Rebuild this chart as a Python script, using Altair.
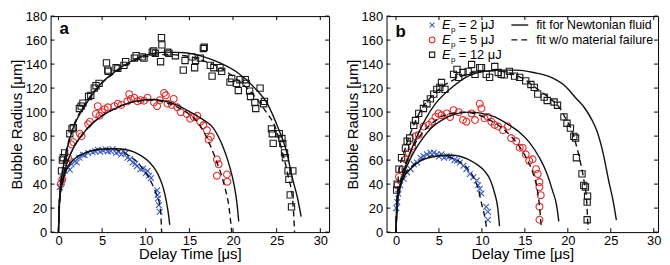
import altair as alt
import pandas as pd

FONT = "Liberation Sans, Arial, Helvetica, sans-serif"
X_TICKS = [0, 5, 10, 15, 20, 25, 30]
Y_TICKS = [0, 20, 40, 60, 80, 100, 120, 140, 160, 180]
X_TITLE = "Delay Time [μs]"
Y_TITLE = "Bubble Radius [μm]"
ENERGIES = ["= 2 μJ", "= 5 μJ", "= 12 μJ"]
FIT_LABELS = ["fit for Newtonian fluid", "fit w/o material failure"]
COLORS = ["#3a5cc6", "#e32b2b", "#1a1a1a"]
CROSS = "M-1,-1L1,1M1,-1L-1,1"
SHAPES = [CROSS, "circle", "square"]
SIZES = [34, 48, 40]

# ---------------- panel a : measured points ----------------
a_blue_t = [0.15, 0.34, 0.5, 0.7, 1.1, 1.3, 1.5, 1.9, 2.1, 2.4, 2.8, 3.0, 3.4, 3.9, 4.2, 4.5, 4.8, 5.1, 5.4,
            5.65, 6.0, 6.2, 6.6, 6.9, 7.2, 7.4, 7.7, 7.9, 8.2, 8.5, 8.8, 9.0, 9.4, 9.7, 10.0, 10.2, 10.4,
            10.6, 11.3, 11.35, 11.4, 11.5, 11.6]
a_blue_r = [37.5, 41.5, 45, 51, 54, 52, 56.5, 59, 58, 62, 64.5, 64, 66, 66.5, 67.5, 68.7, 67, 68, 69,
            67.3, 67.5, 69, 66, 67, 64.6, 67.5, 66, 62, 61, 58, 57, 55, 52.4, 53, 49, 51, 47,
            45, 34.8, 31, 28, 22.5, 17]

a_red_t = [0.27, 0.45, 0.9, 1.1, 1.5, 1.7, 2.45, 2.65, 3.4, 3.6, 4.3, 4.5, 4.7, 5.0, 5.3, 5.65, 6.4, 6.8,
           7.2, 7.9, 8.1, 8.3, 8.7, 9.05, 9.4, 9.8, 10.2, 10.95, 11.3, 11.6, 12.1, 12.3, 12.5, 13.0,
           13.2, 13.6, 14.0, 14.7, 15.1, 15.5, 15.9, 16.25, 16.6, 17.0, 17.2, 17.45, 18.15, 18.35,
           18.15, 19.3, 19.35]
a_red_r = [40, 44, 58, 62, 73, 75, 82, 80, 90, 92, 98.5, 105, 97, 100, 102.5, 104, 105, 107,
           106, 109, 115, 111, 112, 109, 110, 109.5, 112, 108, 105, 110, 116, 114, 107, 106,
           111, 104, 100, 98.5, 94.5, 96, 97, 92, 89, 85, 77, 79.5, 60.5, 56.5,
           47, 48, 42]

a_blk_t = [0.35, 0.45, 0.55, 0.7, 1.3, 1.55, 1.7, 2.4, 2.6, 2.8, 3.45, 3.7, 4.1, 4.3, 4.65, 5.5, 5.65,
           5.7, 6.6, 6.8, 7.5, 7.7, 8.7, 8.9, 9.6, 9.8, 10.75, 10.9, 11.1, 11.7, 11.8, 11.85, 12.5,
           12.65, 13.4, 14.3, 14.5, 15.3, 15.6, 15.7, 16.25, 16.6, 16.7, 17.4, 17.6, 17.8, 18.5,
           18.7, 19.65, 19.85, 20.4, 20.6, 20.8, 21.4, 21.5, 21.9, 22.0, 22.5, 22.6, 23.1, 23.5,
           23.6, 24.4, 24.5, 24.6, 25.3, 25.6, 25.7, 25.9, 26.0, 26.3, 26.4, 26.55, 26.7, 26.85]
a_blk_r = [51, 60, 62, 66, 82, 86, 87, 103, 105, 107.5, 113, 114, 120, 122, 124, 141, 135,
           134, 137, 136.5, 139, 142, 145, 147, 146, 145, 150, 151, 149, 142, 162, 156, 150,
           149, 147, 135, 143, 146, 137, 143, 145, 153, 154, 139, 130, 137, 137,
           134, 125, 128, 124, 118, 127, 127, 124, 117.5, 113, 108, 103, 120, 107,
           109, 86, 82, 74, 82, 78, 74, 66, 62, 51, 44, 31, 21, 51]

# ---------------- panel a : fits ----------------
a_blue_fit_t = [0.02, 0.1, 0.42, 0.8, 1.36, 2.0, 2.88, 3.8, 4.77, 5.7, 6.67, 7.6, 8.55, 9.5, 10.45,
                11.1, 11.6, 12.0, 12.35, 12.6, 12.75]
a_blue_fit_r = [4, 25, 40, 50, 57.5, 62, 65.5, 67.8, 69, 69.5, 69.5, 68.8, 67, 63.5, 58,
                52, 45, 37, 26, 15, 6]
a_blue_dash_t = [0, 0.1, 0.42, 0.8, 1.36, 2.0, 2.88, 3.8, 4.77, 5.7, 6.67, 7.5, 8.2, 9.0, 9.7,
                 10.3, 10.8, 11.25, 11.6, 11.75, 11.82]
a_blue_dash_r = [0, 25, 40, 50, 57.5, 62, 65.5, 67.8, 69, 69.3, 68.5, 66, 63, 58.5, 52.4,
                 46, 39, 31, 22.5, 12, 0]

a_red_fit_t = [0.02, 0.15, 0.5, 1, 1.7, 2.7, 3.8, 5, 6.5, 8, 9.5, 10.5, 12, 13.5, 15, 16.5, 17.7,
               18.9, 19.6, 20.1, 20.45, 20.65]
a_red_fit_r = [6, 30, 45, 58, 70, 81, 90, 97, 103, 107.5, 110, 110.5, 109.5, 106, 100.5, 94, 87,
               70, 55, 40, 24, 9]
a_red_dash_t = [0, 0.15, 0.5, 1, 1.7, 2.7, 3.8, 5, 6.5, 8, 9.5, 10.5, 12, 13.5, 15, 16, 16.9,
                18.0, 19.0, 19.55, 19.85]
a_red_dash_r = [0, 30, 45, 58, 70, 81, 90, 97, 103, 107.5, 109.5, 110, 108.5, 104.5, 98, 91, 80,
                61, 39, 20, 0]

a_blk_fit_t = [0.02, 0.2, 0.5, 1, 1.7, 2.9, 4.8, 6.7, 8.5, 10.5, 12.5, 14.5, 16.5, 18.5, 20.5, 22.5,
               24, 25.1, 26.1, 26.8, 27.4, 27.8]
a_blk_fit_r = [5, 35, 52, 70, 87, 104, 123, 135, 143, 148.5, 150, 149.5, 146.5, 141, 133, 120,
               106, 88, 68, 45, 28, 13]
a_blk_dash_t = [0, 0.2, 0.5, 1, 1.7, 2.9, 4.8, 6.7, 8.5, 10.5, 12.5, 14.5, 16.5, 18.5, 20.5, 22.5,
                23.8, 24.8, 25.5, 26.3, 26.85, 27.05]
a_blk_dash_r = [0, 36, 53, 71, 88, 105, 123, 134, 142, 147, 148, 147, 143, 137, 127, 113,
                100, 88, 71, 47, 25, 0]

# ---------------- panel b : measured points ----------------
b_blue_t = [0.04, 0.15, 0.27, 0.5, 0.9, 1.3, 1.7, 2.07, 2.46, 2.85, 3.2, 3.6, 4.0, 4.4, 4.75, 5.0,
            5.3, 5.6, 5.9, 6.2, 6.5, 6.8, 7.1, 7.45, 7.85, 8.2, 8.6, 9.0, 9.4, 9.55, 9.75, 9.95,
            10.5, 10.7, 10.7]
b_blue_r = [20, 25, 32, 39, 44.4, 49.8, 52.5, 56.6, 58, 62, 63.5, 64.8, 66.2, 66.2, 64.8, 63,
            64.8, 62, 63.5, 63, 62, 60, 59.4, 58, 55.3, 52.5, 48.5, 45.8, 43, 39, 36.2, 32.1,
            21.2, 17, 10.3]

b_red_t = [0.15, 0.35, 0.7, 1.1, 1.5, 1.9, 2.27, 2.65, 3.2, 3.8, 4.2, 4.6, 4.95, 5.3, 5.9, 6.3, 6.7,
           7.3, 7.8, 8.2, 8.8, 9.2, 9.75, 9.95, 10.3, 10.7, 11.1, 11.5, 11.9, 12.45, 13.0, 13.4,
           14.0, 14.4, 14.75, 15.1, 15.5, 15.9, 16.3, 16.5, 16.7, 16.7, 16.85, 16.7, 16.7]
b_red_r = [39, 46, 52.5, 60.7, 66, 71.6, 80, 81, 88, 89.3, 92, 96, 98.9, 97.5, 98.9, 96, 101.6,
           100, 93.4, 92, 98.9, 93.4, 107, 103, 94.8, 96, 92, 89.3, 88, 85, 88, 78.4,
           75.7, 70.3, 70.3, 64.8, 59.4, 60.7, 52.5, 48.5, 41.7, 37.6, 30.8, 21.2, 10.3]

b_blk_t = [0.08, 0.15, 0.35, 0.65, 1.1, 1.3, 1.6, 2.07, 2.27, 2.65, 3.2, 3.6, 4.0, 4.4, 4.75, 5.1,
           5.3, 5.7, 6.7, 7.1, 7.3, 7.8, 8.4, 8.8, 9.2, 9.75, 9.95, 10.5, 10.9, 11.5, 11.9, 12.25,
           12.6, 13.2, 13.8, 14.4, 15.1, 15.7, 16.1, 16.5, 17.25, 17.6, 18.4, 18.8, 19.55, 19.9,
           20.3, 20.7, 20.9, 21.0, 21.65, 21.85, 22.05, 22.25, 22.3, 22.25]
b_blk_r = [35, 40, 52.5, 62, 70, 75.7, 78.4, 89, 93, 99, 103, 107, 111, 115, 119, 120.6,
           124.7, 119, 131.5, 135.6, 129, 133, 134, 139.7, 131.5, 137, 137, 131.5, 129, 138, 133, 131.5,
           131, 134, 130, 129, 126, 123, 120.6, 115, 112.5, 109.7, 108.4, 105.7, 96, 90.7,
           86.6, 79.8, 78.4, 62, 48.5, 39, 37.6, 25, 30, 10.3]

# ---------------- panel b : fits ----------------
b_blue_fit_t = [0.0, 0.16, 0.74, 1.9, 3.0, 4.2, 5.5, 6.5, 7.5, 8.4, 9.5, 10.3, 11.0, 11.5, 11.85, 12.05]
b_blue_fit_r = [5, 29, 43, 54, 60, 62.5, 63.8, 64, 63, 60.7, 56, 51, 43, 32, 20, 5]
b_blue_dash_t = [0, 0.16, 0.74, 1.9, 3.0, 4.2, 5.2, 6.2, 7.2, 8.2, 9.2, 9.6, 9.95, 10.3, 10.55]
b_blue_dash_r = [0, 31, 45, 55, 60.5, 63.5, 64, 62.5, 59.5, 54, 43, 35.5, 24, 14, 3]

b_red_fit_t = [0.02, 0.15, 0.5, 1, 1.8, 2.8, 4, 5.5, 7, 8.5, 10, 11.5, 13, 14.4, 15.5, 16.7, 17.5,
               18.2, 18.7, 18.95]
b_red_fit_r = [5, 25, 38, 50, 63, 75, 86, 94, 98.5, 100, 99, 96, 90, 83, 75, 62, 50, 35, 22, 9]
b_red_dash_t = [0, 0.15, 0.5, 1, 2, 3, 4, 5, 6.5, 8, 9.5, 11, 12.5, 13.5, 14.5, 15.3, 15.9, 16.4,
                16.7, 16.9]
b_red_dash_r = [0, 30, 42, 55, 71, 82, 89.5, 95, 99, 100, 98, 93, 86, 79, 70, 60, 50, 37, 22, 5]

b_blk_fit_t = [0.02, 0.2, 0.6, 1.2, 2.46, 3.5, 4.6, 6.5, 8.4, 10.3, 12.5, 14.1, 16, 18.2, 19.8,
               20.9, 22, 22.8, 23.4, 24.1, 24.75, 25.3, 25.65]
b_blk_fit_r = [5, 25, 42, 57, 80, 95, 107, 120.5, 130, 134, 135, 135, 133, 128.5, 121,
               112, 103, 93.5, 84, 66, 43, 25, 10]
b_blk_dash_t = [0, 0.3, 1, 2, 3, 4, 5, 6.5, 8, 10, 11.5, 13, 15, 16.5, 18, 19, 19.8, 20.5, 21.0,
                21.5, 21.9, 22.2, 22.35]
b_blk_dash_r = [0, 48, 68, 88, 103, 112, 119, 126, 131, 134, 134.5, 133, 127, 119, 111, 104, 94,
                84, 72, 57, 42, 25, 2]

W_A, W_B, H = 281, 274, 218


def pts(t, r):
    return pd.DataFrame({"t": t, "r": r})


def fits(pairs):
    frames = []
    for i, (t, r) in enumerate(pairs):
        d = pts(t, r)
        d["curve"] = i
        frames.append(d)
    return pd.concat(frames, ignore_index=True)


def panel(label, label_y, series, solid, dashed, xdom, width, legend=False):
    xs = alt.Scale(domain=xdom, nice=False, zero=False)
    ys = alt.Scale(domain=[0, 180], nice=False, zero=False)
    xax = alt.Axis(values=X_TICKS, title=X_TITLE, ticks=False, domain=False, grid=False,
                   labelPadding=2, titlePadding=0, format="d")
    yax = alt.Axis(values=Y_TICKS, title=Y_TITLE, ticks=False, domain=False, grid=False,
                   labelPadding=4, titlePadding=1, format="d")

    def X():
        return alt.X("t:Q", scale=xs, axis=xax)

    def Y():
        return alt.Y("r:Q", scale=ys, axis=yax)

    layers = []
    for (t, r), col, shp, sz in zip(series, COLORS, SHAPES, SIZES):
        layers.append(alt.Chart(pts(t, r)).mark_point(shape=shp, filled=False, size=sz,
                                                      strokeWidth=1.1, color=col, opacity=1)
                      .encode(x=X(), y=Y()))
    layers.append(alt.Chart(fits(solid)).mark_line(color="#111111", strokeWidth=1.4,
                                                   interpolate="monotone")
                  .encode(x=X(), y=Y(), detail="curve:N"))
    layers.append(alt.Chart(fits(dashed)).mark_line(color="#111111", strokeWidth=1.4,
                                                    strokeDash=[6, 4], interpolate="monotone")
                  .encode(x=X(), y=Y(), detail="curve:N"))
    xt = pd.DataFrame({"t": X_TICKS})
    yt = pd.DataFrame({"r": Y_TICKS})
    layers.append(alt.Chart(xt).mark_rule(color="black", strokeWidth=1)
                  .encode(x=X(), y=alt.value(H), y2=alt.value(H - 4)))
    layers.append(alt.Chart(xt).mark_rule(color="black", strokeWidth=1)
                  .encode(x=X(), y=alt.value(0), y2=alt.value(4)))
    layers.append(alt.Chart(yt).mark_rule(color="black", strokeWidth=1)
                  .encode(y=Y(), x=alt.value(0), x2=alt.value(4)))
    layers.append(alt.Chart(yt).mark_rule(color="black", strokeWidth=1)
                  .encode(y=Y(), x=alt.value(width), x2=alt.value(width - 4)))
    layers.append(alt.Chart(pd.DataFrame({"s": [label]}))
                  .mark_text(font=FONT, fontSize=17, fontWeight="bold", align="left",
                             baseline="alphabetic", color="black")
                  .encode(text="s:N", x=alt.value(9), y=alt.value(label_y)))
    if legend:
        rows = [9, 24, 39]
        for i in range(3):
            one = pd.DataFrame({"e": ["E"], "p": ["p"], "v": [ENERGIES[i]]})
            layers.append(alt.Chart(one).mark_point(shape=SHAPES[i], filled=False,
                                                    size=SIZES[i] * 0.7, strokeWidth=1.1,
                                                    color=COLORS[i], opacity=1)
                          .encode(x=alt.value(46), y=alt.value(rows[i])))
            layers.append(alt.Chart(one).mark_text(font=FONT, fontSize=13, fontStyle="italic",
                                                   align="left", baseline="middle", color="black")
                          .encode(text="e:N", x=alt.value(56), y=alt.value(rows[i])))
            layers.append(alt.Chart(one).mark_text(font=FONT, fontSize=8, align="left",
                                                   baseline="middle", color="black")
                          .encode(text="p:N", x=alt.value(65), y=alt.value(rows[i] + 5)))
            layers.append(alt.Chart(one).mark_text(font=FONT, fontSize=13, align="left",
                                                   baseline="middle", color="black")
                          .encode(text="v:N", x=alt.value(73), y=alt.value(rows[i])))
        for i in range(2):
            one = pd.DataFrame({"f": [FIT_LABELS[i]]})
            kw = {"strokeDash": [6, 4]} if i == 1 else {}
            layers.append(alt.Chart(one).mark_rule(color="#111111", strokeWidth=1.4, **kw)
                          .encode(x=alt.value(126), x2=alt.value(143), y=alt.value(rows[i])))
            layers.append(alt.Chart(one).mark_text(font=FONT, fontSize=12.5, align="left",
                                                   baseline="middle", color="black")
                          .encode(text="f:N", x=alt.value(151), y=alt.value(rows[i])))
    return alt.layer(*layers).properties(width=width, height=H)


pa = panel("a", 18,
           [(a_blue_t, a_blue_r), (a_red_t, a_red_r), (a_blk_t, a_blk_r)],
           [(a_blue_fit_t, a_blue_fit_r), (a_red_fit_t, a_red_fit_r), (a_blk_fit_t, a_blk_fit_r)],
           [(a_blue_dash_t, a_blue_dash_r), (a_red_dash_t, a_red_dash_r), (a_blk_dash_t, a_blk_dash_r)],
           [-0.9, 31], W_A)
pb = panel("b", 21,
           [(b_blue_t, b_blue_r), (b_red_t, b_red_r), (b_blk_t, b_blk_r)],
           [(b_blue_fit_t, b_blue_fit_r), (b_red_fit_t, b_red_fit_r), (b_blk_fit_t, b_blk_fit_r)],
           [(b_blue_dash_t, b_blue_dash_r), (b_red_dash_t, b_red_dash_r), (b_blk_dash_t, b_blk_dash_r)],
           [-1.1, 30.5], W_B, legend=True)

chart = (alt.hconcat(pa, pb, spacing=14)
         .properties(padding={"left": 0, "top": 0, "right": 0, "bottom": 0})
         .configure_view(stroke="black", strokeWidth=1)
         .configure_axis(labelFont=FONT, labelFontSize=13, labelColor="black",
                         titleFont=FONT, titleFontSize=15, titleColor="black",
                         titleFontWeight="normal"))

chart.save("out.html", embed_options={"renderer": "svg", "actions": False})
